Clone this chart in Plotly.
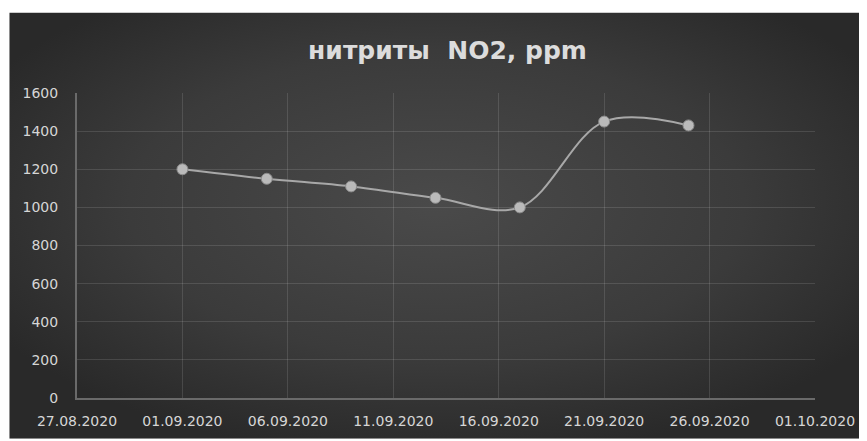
import plotly.graph_objects as go
import urllib.parse

# ---- data ----
dates = ["2020-09-01", "2020-09-05", "2020-09-09", "2020-09-13",
         "2020-09-17", "2020-09-21", "2020-09-25"]
nitrites = [1200, 1150, 1110, 1050, 1000, 1450, 1430]
title_text = "нитриты  NO2, ppm"
y_ticks = [0, 200, 400, 600, 800, 1000, 1200, 1400, 1600]
x_range = ["2020-08-27", "2020-10-01"]

# page body has an 8px margin; the figure is sized to end at the window edge
W, H = 859, 433
L, R, T, B = 69, 49, 85, 41
pw, ph = W - L - R, H - T - B

svg = ('<svg xmlns="http://www.w3.org/2000/svg" width="858" height="429" '
       'preserveAspectRatio="none" viewBox="0 0 858 429">'
       '<defs><radialGradient id="g" cx="50%" cy="45%" r="60%">'
       '<stop offset="0" stop-color="#4a4a4a"/>'
       '<stop offset="0.6" stop-color="#3b3b3b"/>'
       '<stop offset="1" stop-color="#292929"/>'
       '</radialGradient></defs>'
       '<rect width="858" height="429" fill="url(#g)"/></svg>')
src = "data:image/svg+xml;charset=utf-8," + urllib.parse.quote(svg)

fig = go.Figure()
fig.add_trace(go.Scatter(
    x=dates, y=nitrites, mode="lines+markers",
    line=dict(color="#a8a8a8", width=2, shape="spline", smoothing=1),
    marker=dict(size=11, color="#bababa", line=dict(color="#8a8a8a", width=1)),
    showlegend=False, hoverinfo="skip"))

x0 = (1 - L) / pw
x1 = (W - L) / pw
y1 = (H - B - 4) / ph
y0 = -B / ph
fig.add_layout_image(dict(source=src, xref="paper", yref="paper",
                          x=x0, y=y1, sizex=x1 - x0, sizey=y1 - y0,
                          sizing="stretch", xanchor="left", yanchor="top",
                          layer="below"))

tick_font = dict(family="DejaVu Sans", size=14, color="#d6d6d6")
fig.update_layout(
    width=W, height=H,
    margin=dict(l=L, r=R, t=T, b=B),
    paper_bgcolor="white", plot_bgcolor="rgba(0,0,0,0)",
    title=dict(text=title_text, x=(L + pw / 2) / W, xanchor="center",
               y=1 - 42 / H, yanchor="middle",
               font=dict(family="DejaVu Sans", size=25, color="#dcdcdc",
                         weight="bold")),
    xaxis=dict(type="date", range=x_range, dtick=5 * 86400000,
               tick0="2020-08-27", tickformat="%d.%m.%Y",
               showgrid=True, gridcolor="rgba(255,255,255,0.12)", gridwidth=1,
               showline=True, linecolor="#6a6a6a", linewidth=2,
               zeroline=False, ticks="", tickfont=tick_font,
               ticklabelstandoff=9),
    yaxis=dict(range=[0, 1600], tickvals=y_ticks,
               showgrid=True, gridcolor="rgba(255,255,255,0.12)", gridwidth=1,
               showline=True, linecolor="#6a6a6a", linewidth=2,
               zeroline=False, ticks="", tickfont=tick_font,
               ticklabelstandoff=14),
)

fig.write_html("out.html")
